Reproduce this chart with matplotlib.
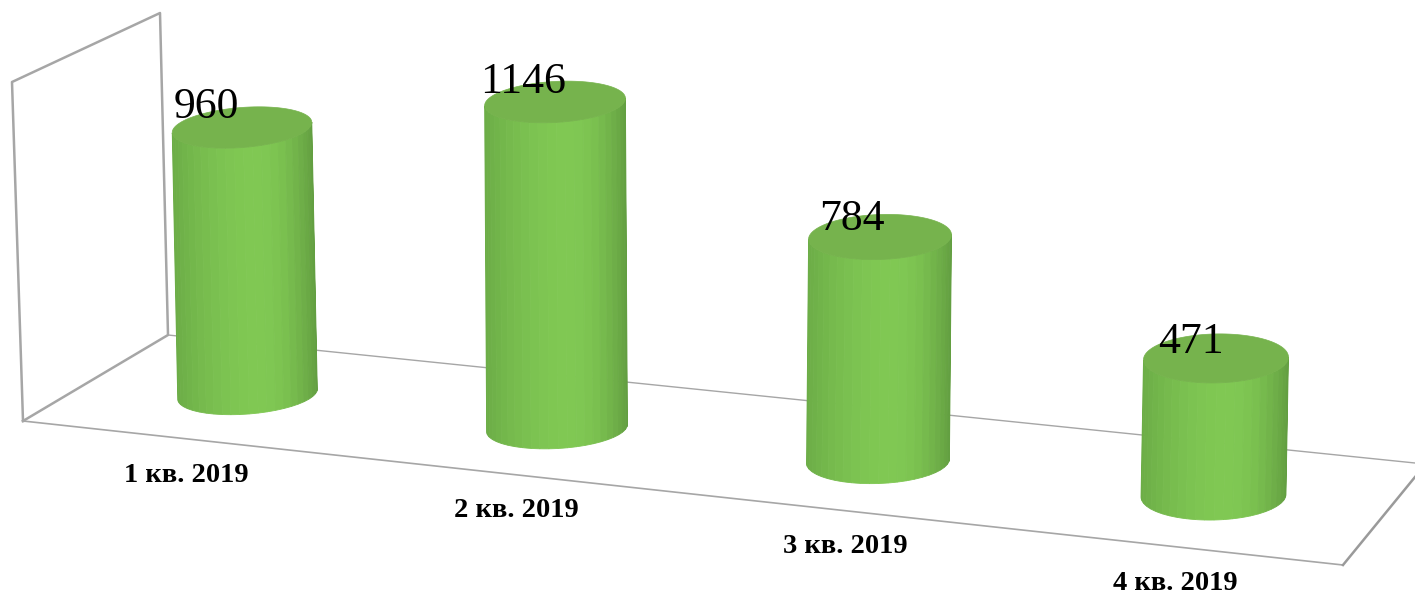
import numpy as np
import matplotlib
matplotlib.use('Agg')
import matplotlib.pyplot as plt
from matplotlib.colors import to_rgb

categories = ['1 кв. 2019', '2 кв. 2019', '3 кв. 2019', '4 кв. 2019']
values = [960, 1146, 784, 471]

# where each cylinder stands on the floor, in picture pixels
base_x = [247.5, 557, 878, 1213.5]
base_y = [394, 428, 461, 495.5]
half_width = [70, 70.5, 71.5, 72.5]
half_depth = [20, 20.5, 22.5, 24.5]
tilt = [-4.5, -3.2, -2.0, -1.2]
lean = [-0.0206, -0.006, 0.009, 0.018]
# pixels per unit of value, grows a little towards the viewer
scale = [0.2776, 0.2845, 0.2857, 0.291]

label_dx = [-36, -32, -28, -25]
label_dy = [-9.5, -9, -7, -5]
cat_x = [186, 516, 845, 1175]
cat_y = [482, 517, 553, 590]

LINE = '#a6a6a6'
LEFT = to_rgb('#6cad47')
MID = to_rgb('#80c853')
RIGHT = to_rgb('#639f41')
TOP = '#76b34d'


def ring(cx, cy, a, b, phi, t):
    p = np.radians(phi)
    x = cx + a * np.cos(t) * np.cos(p) - b * np.sin(t) * np.sin(p)
    y = cy + a * np.cos(t) * np.sin(p) + b * np.sin(t) * np.cos(p)
    return x, y


def shade(u):
    # u runs from -1 (left edge) to 1 (right edge), the light sits right of centre
    peak = 0.2
    if u < peak:
        f = ((peak - u) / (1 + peak)) ** 2
        end = LEFT
    else:
        f = ((u - peak) / (1 - peak)) ** 2
        end = RIGHT
    return tuple(m + (e - m) * f for m, e in zip(MID, end))


def cylinder(ax, i):
    h = values[i] * scale[i]
    bx, by = base_x[i], base_y[i]
    tx, ty = bx + lean[i] * h, by - h
    a, b, phi = half_width[i], half_depth[i], tilt[i]

    # side of the cylinder, built from narrow facets
    edges = np.linspace(np.pi, 0, 25)
    for t0, t1 in zip(edges[:-1], edges[1:]):
        tt = np.linspace(t0, t1, 5)
        xb, yb = ring(bx, by, a, b, phi, tt)
        xt, yt = ring(tx, ty, a, b, phi, tt)
        col = shade(np.cos((t0 + t1) / 2))
        ax.fill(np.r_[xb, xt[::-1]], np.r_[yb, yt[::-1]], color=col, lw=0.6, zorder=3)

    tt = np.linspace(0, 2 * np.pi, 120)
    xt, yt = ring(tx, ty, a, b, phi, tt)
    ax.fill(xt, yt, color=TOP, lw=0.5, zorder=4)

    ax.text(tx + label_dx[i], ty + label_dy[i], str(values[i]), fontsize=31.5,
            family='Liberation Serif', color='black', ha='center', va='baseline', zorder=5)


fig = plt.figure(figsize=(14.15, 5.93), dpi=100)
ax = fig.add_axes([0, 0, 1, 1])
ax.set_xlim(0, 1415)
ax.set_ylim(593, 0)
ax.axis('off')

# back wall and floor frame
ax.plot([23, 12, 160, 168, 23], [421, 82, 13, 335, 421], color=LINE, lw=1.8, zorder=1)
ax.plot([23, 1343], [421, 565], color=LINE, lw=1.2, zorder=1)
ax.plot([168, 1415], [335, 463], color=LINE, lw=1.0, zorder=1)
ax.plot([1343, 1415], [565, 477], color='#9a9a9a', lw=1.8, zorder=1)

for i in range(len(values)):
    cylinder(ax, i)
    ax.text(cat_x[i], cat_y[i], categories[i], fontsize=20.5, fontweight='bold',
            family='Liberation Serif', color='black', ha='center', va='baseline', zorder=5)

fig.savefig('out.png', dpi=100)
